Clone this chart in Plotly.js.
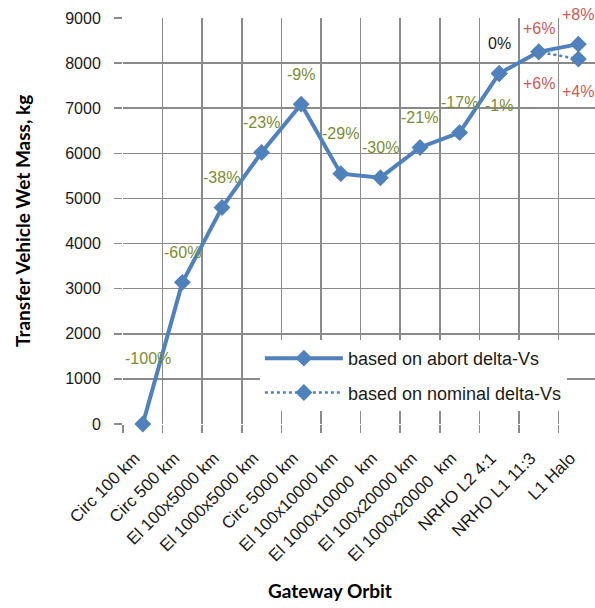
<!DOCTYPE html>
<html>
<head>
<meta charset="utf-8">
<script src="https://cdn.plot.ly/plotly-3.0.1.min.js"></script>
<style>html,body{margin:0;padding:0;background:#fff;}#chart{width:595px;height:608px;}</style>
</head>
<body>
<div id="chart"></div>
<script>
// ---- data ----
var orbits = ["Circ 100 km","Circ 500 km","El 100x5000 km","El 1000x5000 km","Circ 5000 km","El 100x10000 km","El 1000x10000  km","El 100x20000 km","El 1000x20000  km","NRHO L2 4:1","NRHO L1 11:3","L1 Halo"];
var abortMass = [0, 3140, 4800, 6020, 7090, 5550, 5460, 6130, 6460, 7770, 8250, 8420];
var nominalMass = [null, null, null, null, null, null, null, null, null, 7770, 8250, 8090];
var abortLabels = ["-100%","-60%","-38%","-23%","-9%","-29%","-30%","-21%","-17%","0%","+6%","+8%"];
var nominalLabels = [null, null, null, null, null, null, null, null, null, "-1%","+6%","+4%"];
var yTicks = [0,1000,2000,3000,4000,5000,6000,7000,8000,9000];

// ---- style ----
var BLUE = "#4f81bd";
var GRID = "#8a8a8a";
var FONT = "Liberation Sans, Arial";
function labelColor(s){
  if (s.charAt(0) === "-") return "#7a8c32";
  if (s.charAt(0) === "+") return "#cc5a55";
  return "#1a1a1a";
}
var aboveShift = {0: 66, 5: 40, 10: 23};

var traces = [
  {x: orbits, y: abortMass, type: "scatter", mode: "lines+markers", name: "based on abort delta-Vs",
   line: {color: BLUE, width: 4}, marker: {symbol: "diamond", size: 13, color: BLUE},
   legendgroup: "a", cliponaxis: false},
  {x: orbits, y: nominalMass, type: "scatter", mode: "lines+markers", name: "based on nominal delta-Vs",
   line: {color: BLUE, width: 2.5, dash: "dot"}, marker: {symbol: "diamond", size: 13, color: BLUE},
   connectgaps: false, legendgroup: "b", cliponaxis: false}
];

var annotations = [];
abortLabels.forEach(function(t, i){
  annotations.push({x: orbits[i], y: abortMass[i], xref: "x", yref: "y", text: t, showarrow: false,
    yshift: (aboveShift[i] !== undefined ? aboveShift[i] : 30), xshift: (i === 0 ? 5 : 0),
    font: {family: FONT, size: 16, color: labelColor(t)}});
});
nominalLabels.forEach(function(t, i){
  if (t === null) return;
  annotations.push({x: orbits[i], y: nominalMass[i], xref: "x", yref: "y", text: t, showarrow: false,
    yshift: -32, font: {family: FONT, size: 16, color: labelColor(t)}});
});
annotations.push({text: "<b>Transfer Vehicle Wet Mass, kg</b>", xref: "paper", yref: "paper", x: -0.214, y: 0.5,
  textangle: -90, showarrow: false, xanchor: "center", yanchor: "middle",
  font: {family: "Lato", size: 19, color: "#000"}});
annotations.push({text: "<b>Gateway Orbit</b>", xref: "paper", yref: "paper", x: 0.4386, y: -0.409,
  showarrow: false, xanchor: "center", yanchor: "middle",
  font: {family: "Lato", size: 19, color: "#000"}});

var layout = {
  width: 595, height: 608,
  margin: {l: 123, r: 0, t: 18, b: 184},
  paper_bgcolor: "#fff", plot_bgcolor: "#fff",
  showlegend: true,
  legend: {x: 0.29, y: 0.207, xanchor: "left", yanchor: "top", bgcolor: "#fff", borderwidth: 0,
    font: {family: FONT, size: 18, color: "#1a1a1a"}, itemwidth: 78,
    traceorder: "grouped", tracegroupgap: 8},
  xaxis: {type: "category", range: [-0.5, 11.42], tickson: "boundaries", showgrid: true, gridcolor: GRID, gridwidth: 1.5,
    ticks: "outside", ticklen: 8, tickcolor: GRID, tickwidth: 1.5, tickangle: -45, showline: false, zeroline: false,
    ticklabelstandoff: 20, ticklabelshift: -8,
    tickfont: {family: FONT, size: 17, color: "#1a1a1a"}},
  yaxis: {range: [0, 9000], tickvals: yTicks, showgrid: true, gridcolor: GRID, gridwidth: 1.5, zeroline: false,
    ticks: "outside", ticklen: 8, tickcolor: GRID, tickwidth: 1.5, showline: false, ticklabelstandoff: 10,
    tickfont: {family: FONT, size: 16, color: "#1a1a1a"}},
  annotations: annotations
};

Plotly.newPlot("chart", traces, layout, {displayModeBar: false, staticPlot: true});
</script>
</body>
</html>
